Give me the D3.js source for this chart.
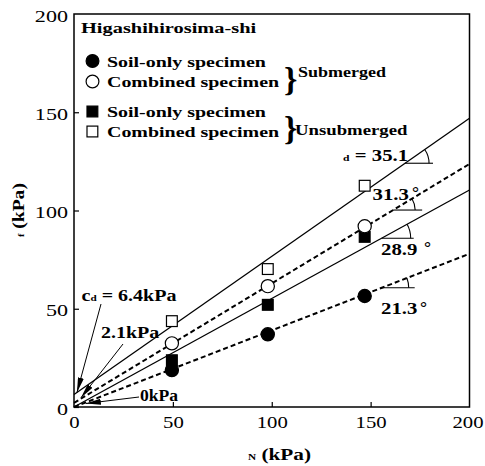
<!DOCTYPE html>
<html>
<head>
<meta charset="utf-8">
<script src="https://cdn.jsdelivr.net/npm/d3@7"></script>
<style>
  html, body { margin: 0; padding: 0; background: #fff; }
  svg { display: block; }
  svg text { font-family: "Liberation Serif"; }
</style>
</head>
<body>
<svg id="chart" width="485" height="466"></svg>
<script>
// Normal stress of the three loading stages (kPa)
const normalStress = [49.5, 98, 147];

// Shear strength at failure (kPa) for each specimen type
const soilSubmerged = [18.8, 37.0, 56.5];
const combinedSubmerged = [32.4, 61.5, 92.0];
const soilUnsubmerged = [23.8, 52.0, 86.6];
const combinedUnsubmerged = [43.7, 70.2, 112.6];

// Strength envelopes: apparent cohesion (kPa) and friction angle (deg)
const envelopeNames = ["Combined, unsubmerged", "Combined, submerged", "Soil-only, unsubmerged", "Soil-only, submerged"];
const cohesion = [6.4, 2.1, 0, 0];
const frictionAngle = [35.1, 31.3, 28.9, 21.3];
const envelopeSubmerged = [false, true, false, true];

// Axis ticks
const xTicks = [0, 50, 100, 150, 200];
const yTicks = [0, 50, 100, 150, 200];

const FONT = "Liberation Serif";

const svg = d3.select("#chart").style("font-family", FONT);
const x = d3.scaleLinear().domain([0, 200]).range([74, 469.5]);
const y = d3.scaleLinear().domain([0, 200]).range([407, 14]);

const SX = 1.3; // horizontal stretch of the lettering

function label(g, px, py, str, opt = {}) {
  return g.append("text")
    .attr("transform", `translate(${px},${py}) scale(${opt.sx || SX},1)`)
    .style("font-family", FONT)
    .style("font-size", (opt.size || 15) + "px")
    .style("font-weight", opt.weight || "bold")
    .attr("text-anchor", opt.anchor || "start")
    .attr("fill", "#000")
    .text(str);
}

// defs: arrow head
svg.append("defs").append("marker")
  .attr("id", "arrow")
  .attr("markerUnits", "userSpaceOnUse")
  .attr("markerWidth", 15).attr("markerHeight", 6)
  .attr("refX", 15).attr("refY", 3)
  .attr("orient", "auto")
  .append("path").attr("d", "M0,0 L15,3 L0,6 Z").attr("fill", "#000");

// Axes with inward ticks
const XSX = 1.22;
const xAxis = svg.append("g").attr("transform", `translate(0,${y(0)})`)
  .call(d3.axisBottom(x).tickValues(xTicks).tickSizeInner(-5).tickSizeOuter(0).tickPadding(9));
xAxis.attr("font-family", null).attr("font-size", null);
xAxis.select(".domain").remove();
xAxis.selectAll("line").attr("stroke", "#000").attr("stroke-width", 1.2);
xAxis.selectAll("text")
  .style("font-family", FONT).style("font-size", "17px").attr("fill", "#000")
  .attr("x", d => d === 200 ? -2 / XSX : 0)
  .attr("transform", `scale(${XSX},1)`);

const yAxis = svg.append("g").attr("transform", `translate(${x(0)},0)`)
  .call(d3.axisLeft(y).tickValues(yTicks).tickSizeInner(-5).tickSizeOuter(0));
yAxis.attr("font-family", null).attr("font-size", null);
yAxis.select(".domain").remove();
yAxis.selectAll("line").attr("stroke", "#000").attr("stroke-width", 1.2);
yAxis.selectAll("text")
  .style("font-family", FONT).style("font-size", "17px").attr("fill", "#000")
  .attr("x", -6 / SX).attr("dy", "0.42em")
  .attr("transform", `scale(${SX},1)`);
yAxis.selectAll(".tick").filter(d => d === 200).select("line").remove();
xAxis.selectAll(".tick").filter(d => d === 200 || d === 0).select("line").remove();

// Plot frame
svg.append("rect")
  .attr("x", x(0)).attr("y", y(200))
  .attr("width", x(200) - x(0)).attr("height", y(0) - y(200))
  .attr("fill", "none").attr("stroke", "#000").attr("stroke-width", 1.5);

// Strength envelopes
const kx = (x(200) - x(0)) / 200, ky = (y(0) - y(200)) / 200;
const envelopes = envelopeNames.map((name, i) => ({
  name, c: cohesion[i], phi: frictionAngle[i], sub: envelopeSubmerged[i],
  slope: Math.tan(frictionAngle[i] * Math.PI / 180)
}));
const lineGen = d3.line().x(d => x(d[0])).y(d => y(d[1]));
svg.append("g").selectAll("path").data(envelopes).join("path")
  .attr("d", e => lineGen([[0, e.c], [200, e.c + e.slope * 200]]))
  .attr("fill", "none").attr("stroke", "#000")
  .attr("stroke-width", e => e.sub ? 2 : 1.3)
  .attr("stroke-dasharray", e => e.sub ? "5,3" : null);

// Angle indicators on each envelope
const angleMarks = [
  { at: 167.4, r: 24, len: 28 },
  { at: 161.4, r: 22, len: 29 },
  { at: 155.6, r: 29, len: 32 },
  { at: 155.6, r: 27, len: 33 }
];
const angG = svg.append("g").attr("fill", "none").attr("stroke", "#000").attr("stroke-width", 1.1);
envelopes.forEach((e, i) => {
  const m = angleMarks[i];
  const px = x(m.at), py = y(e.c + e.slope * m.at);
  const th = Math.atan(e.slope * ky / kx);
  angG.append("path").attr("d", `M${px},${py} H${px + m.len}`);
  angG.append("path").attr("d",
    `M${px + m.r},${py} A${m.r},${m.r} 0 0 0 ${px + m.r * Math.cos(th)},${py - m.r * Math.sin(th)}`);
});

// Measured points
const pts = svg.append("g");
function plotSeries(vals, shape, filled) {
  vals.forEach((v, i) => {
    const cx = x(normalStress[i]), cy = y(v);
    if (shape === "circle") {
      pts.append("circle").attr("cx", cx).attr("cy", cy).attr("r", 6.6)
        .attr("fill", filled ? "#000" : "#fff").attr("stroke", "#000").attr("stroke-width", 1.2);
    } else {
      pts.append("rect").attr("x", cx - 5.4).attr("y", cy - 5.4).attr("width", 10.8).attr("height", 10.8)
        .attr("fill", filled ? "#000" : "#fff").attr("stroke", "#000").attr("stroke-width", 1.2);
    }
  });
}
plotSeries(combinedUnsubmerged, "square", false);
plotSeries(soilUnsubmerged, "square", true);
plotSeries(combinedSubmerged, "circle", false);
plotSeries(soilSubmerged, "circle", true);

// Legend
const lg = svg.append("g");
label(lg, 81, 33, "Higashihirosima-shi", { sx: 1.36 });
const legendRows = [
  { shape: "circle", filled: true, text: "Soil-only specimen", cy: 61 },
  { shape: "circle", filled: false, text: "Combined specimen", cy: 81.5 },
  { shape: "square", filled: true, text: "Soil-only specimen", cy: 111.5 },
  { shape: "square", filled: false, text: "Combined specimen", cy: 131.5 }
];
legendRows.forEach(r => {
  if (r.shape === "circle") {
    lg.append("circle").attr("cx", 92.5).attr("cy", r.cy).attr("r", 6.4)
      .attr("fill", r.filled ? "#000" : "#fff").attr("stroke", "#000").attr("stroke-width", 1.2);
  } else {
    lg.append("rect").attr("x", 87).attr("y", r.cy - 5.4).attr("width", 10.8).attr("height", 10.8)
      .attr("fill", r.filled ? "#000" : "#fff").attr("stroke", "#000").attr("stroke-width", 1.2);
  }
  label(lg, 107, r.cy + 5.5, r.text, { sx: 1.33 });
});
label(lg, 284, 91, "}", { size: 34, sx: 1 });
label(lg, 298, 77, "Submerged", { sx: 1.2 });
label(lg, 284, 140, "}", { size: 34, sx: 1 });
label(lg, 295, 135, "Unsubmerged", { sx: 1.25 });

// Envelope annotations
const an = svg.append("g");
const phiLabel = label(an, 343, 161, "", { size: 16, sx: 1.3 });
phiLabel.append("tspan").style("font-size", "9px").text("d");
phiLabel.append("tspan").text(" = " + frictionAngle[0].toFixed(1));
label(an, 372.5, 200, frictionAngle[1].toFixed(1), { size: 16 });
label(an, 412, 198, "°", { size: 16, sx: 1.1 });
label(an, 381, 255, frictionAngle[2].toFixed(1), { size: 16 });
label(an, 424, 253, "°", { size: 16, sx: 1.1 });
label(an, 381, 314, frictionAngle[3].toFixed(1), { size: 16 });
label(an, 420, 313, "°", { size: 16, sx: 1.1 });

// Cohesion call-outs
const c0 = label(an, 81.5, 301, "", { size: 16, sx: 1.25 });
c0.append("tspan").text("c");
c0.append("tspan").style("font-size", "9px").text("d");
c0.append("tspan").text(" = " + cohesion[0] + "kPa");
label(an, 101, 338, cohesion[1] + "kPa", { size: 16, sx: 1.25 });
label(an, 140, 401, cohesion[2] + "kPa", { size: 16, sx: 1.1 });

const arrows = an.append("g").attr("stroke", "#000").attr("stroke-width", 1).attr("fill", "none");
arrows.append("line").attr("x1", 101).attr("y1", 304).attr("x2", x(1.5)).attr("y2", y(cohesion[0]) - 2)
  .attr("marker-end", "url(#arrow)");
arrows.append("line").attr("x1", 123).attr("y1", 344).attr("x2", x(3.5)).attr("y2", y(cohesion[1]) - 5)
  .attr("marker-end", "url(#arrow)");
arrows.append("line").attr("x1", 139).attr("y1", 397).attr("x2", x(6)).attr("y2", y(cohesion[2]) - 3.5)
  .attr("marker-end", "url(#arrow)");

// Axis titles
const xt = label(svg, 248, 460, "", { size: 17, sx: 1.25 });
xt.append("tspan").style("font-size", "9px").text("N");
xt.append("tspan").text(" (kPa)");
const yt = svg.append("text")
  .attr("transform", "translate(24,237) rotate(-90) scale(1.15,1)")
  .style("font-family", FONT)
  .style("font-size", "17px").style("font-weight", "bold").attr("fill", "#000");
yt.append("tspan").style("font-size", "9px").text("f");
yt.append("tspan").text(" (kPa)");
</script>
</body>
</html>
